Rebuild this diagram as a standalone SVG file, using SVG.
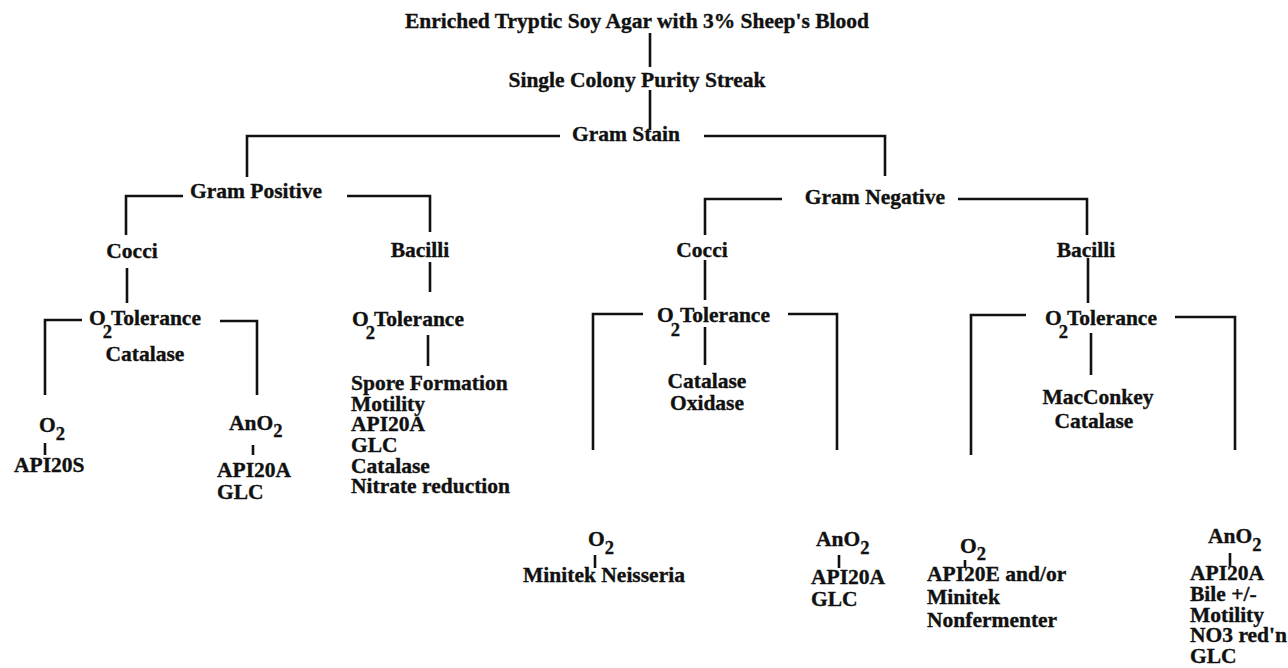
<svg xmlns="http://www.w3.org/2000/svg" width="1288" height="668" viewBox="0 0 1288 668">
<style>
text{font-family:"Liberation Serif","Times New Roman",serif;font-weight:bold;font-size:21.5px;fill:#111;stroke:#111;stroke-width:0.35}
.c{text-anchor:middle}
.s{font-size:18.5px}
#connectors path{fill:none;stroke:#111;stroke-width:2.6}
</style>
<rect width="1288" height="668" fill="#fff"/>
<g id="connectors">
<path d="M650,33V67M650,90V130"/>
<path d="M247,177V136H560M704,136H885V176"/>
<path d="M126,235V196H183M347,196H430V232"/>
<path d="M705,235V199H782M958,199H1087V235"/>
<path d="M127,268V303M82,320H45V395M220,321H257V395M45,443V455M253,445V455"/>
<path d="M430,262V292M428,335V366"/>
<path d="M705,260V300M705,327V365M643,314H593V450M788,314H837V450M595,555V568M839,555V568"/>
<path d="M1088,258V303M1091,333V375M1026,315H971V455M1175,317H1235V450M965,560V568M1230,553V566"/>
</g>
<g id="n-title"><text class="c" x="637" y="28">Enriched Tryptic Soy Agar with 3% Sheep's Blood</text></g>
<g id="n-streak"><text class="c" x="637" y="87">Single Colony Purity Streak</text></g>
<g id="n-gramstain"><text class="c" x="626" y="141">Gram Stain</text></g>
<g id="n-grampos"><text class="c" x="256" y="198">Gram Positive</text></g>
<g id="n-gramneg"><text class="c" x="875" y="204">Gram Negative</text></g>
<g id="n-gp-cocci"><text class="c" x="132" y="258">Cocci</text></g>
<g id="n-gp-bacilli"><text class="c" x="420" y="257">Bacilli</text></g>
<g id="n-gn-cocci"><text class="c" x="702" y="257">Cocci</text></g>
<g id="n-gn-bacilli"><text class="c" x="1086" y="257">Bacilli</text></g>
<g id="n-gp-cocci-o2"><text x="89" y="325">O<tspan class="s" dx="-3" dy="13">2</tspan><tspan dx="-1" dy="-13">Tolerance</tspan></text><text class="c" x="145" y="361">Catalase</text></g>
<g id="n-gp-bacilli-o2"><text x="352" y="326">O<tspan class="s" dx="-3" dy="13">2</tspan><tspan dx="-1" dy="-13">Tolerance</tspan></text>
<text x="351" y="390">Spore Formation</text><text x="351" y="411">Motility</text><text x="351" y="431">API20A</text><text x="351" y="452">GLC</text><text x="351" y="473">Catalase</text><text x="351" y="493">Nitrate reduction</text></g>
<g id="n-gn-cocci-o2"><text x="657" y="322">O<tspan class="s" dx="-3" dy="14">2</tspan><tspan dx="0" dy="-14">Tolerance</tspan></text><text class="c" x="707" y="388">Catalase</text><text class="c" x="707" y="410">Oxidase</text></g>
<g id="n-gn-bacilli-o2"><text x="1045" y="325">O<tspan class="s" dx="-3" dy="13">2</tspan><tspan dx="-1" dy="-13">Tolerance</tspan></text><text class="c" x="1098" y="404">MacConkey</text><text class="c" x="1094" y="428">Catalase</text></g>
<g id="n-gp-o2"><text x="39" y="432">O<tspan class="s" dy="8">2</tspan></text><text x="14" y="472">API20S</text></g>
<g id="n-gp-ano2"><text x="229" y="430">AnO<tspan class="s" dy="7">2</tspan></text><text x="217" y="477">API20A</text><text x="217" y="499">GLC</text></g>
<g id="n-gn-cocci-o2a"><text x="588" y="546">O<tspan class="s" dy="8">2</tspan></text><text class="c" x="604" y="582">Minitek Neisseria</text></g>
<g id="n-gn-cocci-ano2"><text x="816" y="546">AnO<tspan class="s" dy="8">2</tspan></text><text x="811" y="584">API20A</text><text x="811" y="606">GLC</text></g>
<g id="n-gn-bacilli-o2a"><text x="960" y="553">O<tspan class="s" dy="7">2</tspan></text><text x="927" y="581">API20E and/or</text><text x="927" y="604">Minitek</text><text x="927" y="627">Nonfermenter</text></g>
<g id="n-gn-bacilli-ano2"><text x="1208" y="543">AnO<tspan class="s" dy="8">2</tspan></text><text x="1190" y="580">API20A</text><text x="1190" y="601">Bile +/-</text><text x="1190" y="622">Motility</text><text x="1190" y="642">NO3 red'n</text><text x="1190" y="663">GLC</text></g>
</svg>
